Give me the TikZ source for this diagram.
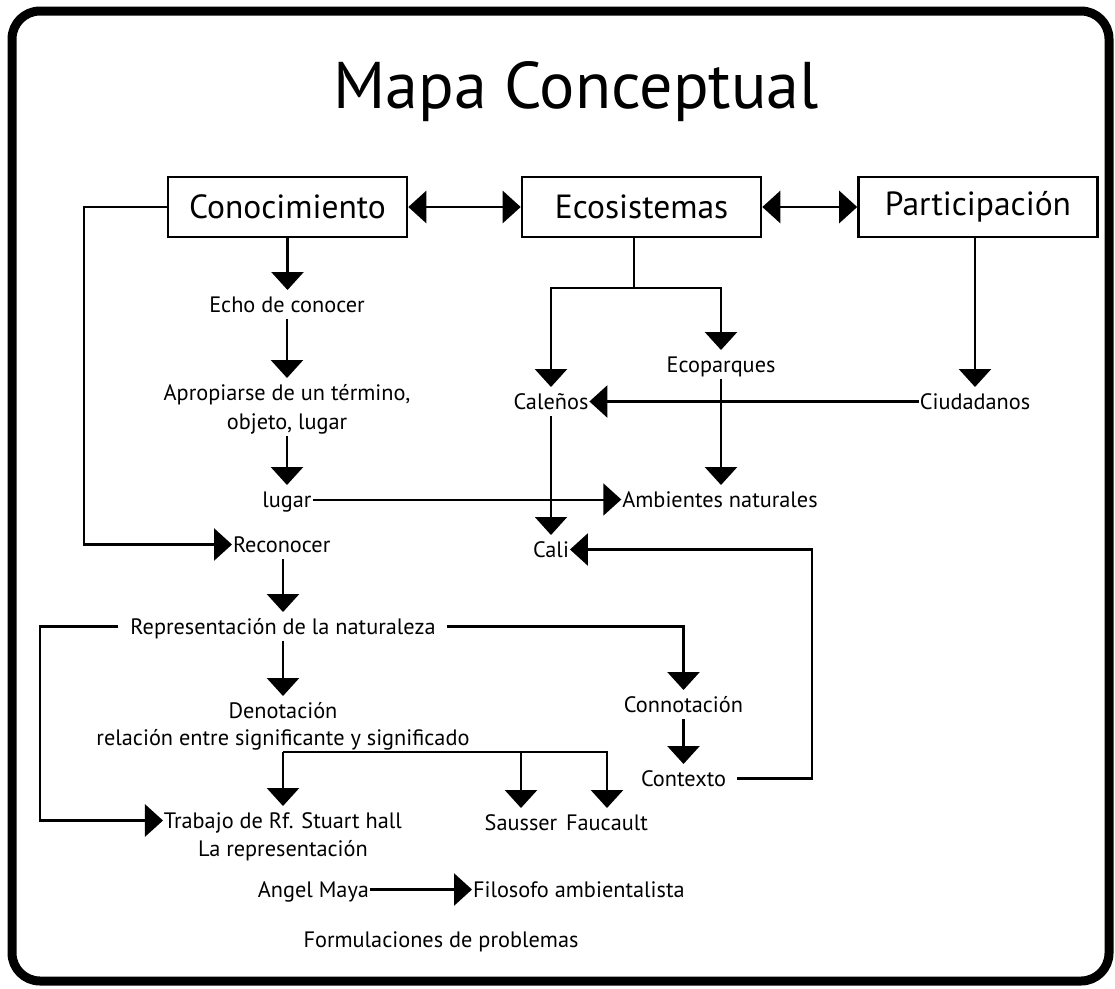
\documentclass[tikz,border=0pt]{standalone}
\usepackage{fontspec}
\setmainfont{PT Sans}
\usetikzlibrary{arrows.meta}
\begin{document}
\begin{tikzpicture}[x=1pt,y=-1pt,
  lbl/.style={font=\fontsize{22.3}{26}\selectfont, inner sep=0pt, outer xsep=1pt, outer ysep=7pt, text height=15pt, text depth=0pt, anchor=base},
  conceptbox/.style={draw, line width=2.6pt, minimum width=239pt, minimum height=60pt, inner sep=0pt, font=\fontsize{33.5}{38}\selectfont},
  titlestyle/.style={font=\fontsize{66}{72}\selectfont, inner sep=0pt, anchor=base},
  tip/.style={-{Triangle[length=18pt,width=32pt]}},
  arr/.style={line width=2.8pt, tip},
  arrthin/.style={line width=2pt, tip},
  dblarr/.style={line width=2.8pt, {Triangle[length=18pt,width=32pt]}-{Triangle[length=18pt,width=32pt]}},
  plain/.style={line width=2.8pt}
]
\useasboundingbox (0,0) rectangle (1115,988);
\fill[white] (0,0) rectangle (1115,988);
\draw[line width=9pt, rounded corners=28pt] (12,11) rectangle (1109,981);

\node[titlestyle] (title) at (576,108) {Mapa Conceptual};

\node[conceptbox] (cono) at (287.5,207) {Conocimiento};
\node[conceptbox] (eco) at (641.5,207) {Ecosistemas};
\node[conceptbox] (part) at (978,207) {Participación};

\node[lbl] (echo) at (287,312) {Echo de conocer};
\node[lbl] (ap1) at (287,400) {Apropiarse de un término,};
\node[lbl] (ap2) at (287,429) {objeto, lugar};
\node[lbl] (lugar) at (287,507) {lugar};
\node[lbl,anchor=base west] (recon) at (232,552) {Reconocer};
\node[lbl] (repr) at (283,634) {Representación de la naturaleza};
\node[lbl] (den1) at (283,718) {Denotación};
\node[lbl] (den2) at (283,745) {relación entre significante y significado};
\node[lbl] (trab1) at (283,828) {Trabajo de Rf. Stuart hall};
\node[lbl] (trab2) at (283,856) {La representación};
\node[lbl,anchor=base east] (angel) at (370,897) {Angel Maya};
\node[lbl,anchor=base west] (filos) at (472,897) {Filosofo ambientalista};
\node[lbl] (form) at (441,947) {Formulaciones de problemas};
\node[lbl] (saus) at (521,830) {Sausser};
\node[lbl] (fauc) at (607,830) {Faucault};
\node[lbl] (connot) at (683.5,712) {Connotación};
\node[lbl] (context) at (683.5,786) {Contexto};
\node[lbl] (cali) at (551,557) {Cali};
\node[lbl] (amb) at (720,507) {Ambientes naturales};
\node[lbl] (cale) at (551,409) {Caleños};
\node[lbl] (ecop) at (721,372) {Ecoparques};
\node[lbl] (ciud) at (975,409) {Ciudadanos};

\coordinate (cl) at (84,0);
\coordinate (rl) at (40,0);
\coordinate (cr) at (812,0);
\coordinate (ej) at (634,288);

% top row
\draw[dblarr] (cono.east) -- (eco.west);
\draw[dblarr] (eco.east) -- (part.west);

% left column
\draw[arr] (cono.south) -- (cono.south |- echo.north);
\draw[arr] (echo.south) -- (ap1.north);
\draw[arr] (ap2.south) -- (lugar.north);
\draw[arr] (cono.west) -| (cl |- recon.west) -- (recon.west);
\draw[arr] (recon.south -| repr.north) -- (repr.north);
\draw[arr] (repr.south) -- (den1.north);
\draw[arr] ([xshift=-11pt]repr.west) -| (rl |- trab1.west) -- (trab1.west);
\draw[arr] ([xshift=10pt]repr.east) -| (connot.north);
\draw[arr] (den2.south) -- (trab1.north);
\draw[arr] (den2.south) -| (fauc.north);
\draw[arr] (den2.south -| saus.north) -- (saus.north);
\draw[arrthin] (lugar.east) -- (amb.west);
\draw[arr] (angel.east) -- (filos.west);

% right part
\draw[arr] (connot.south) -- (context.north);
\draw[arr] ([xshift=10pt]context.east) -| (cr |- cali.east) -- (cali.east);
\draw[plain] (ej |- eco.south) -- (ej);
\draw[arr] (ej) -| (cale.north);
\draw[arr] (ej) -| (ecop.north);
\draw[arr] (ciud.north |- part.south) -- (ciud.north);
\draw[arr] (ciud.west) -- (cale.east);
\draw[arrthin] (cale.south) -- (cali.north);
\draw[arr] (ecop.south) -- (ecop.south |- amb.north);
\end{tikzpicture}
\end{document}
